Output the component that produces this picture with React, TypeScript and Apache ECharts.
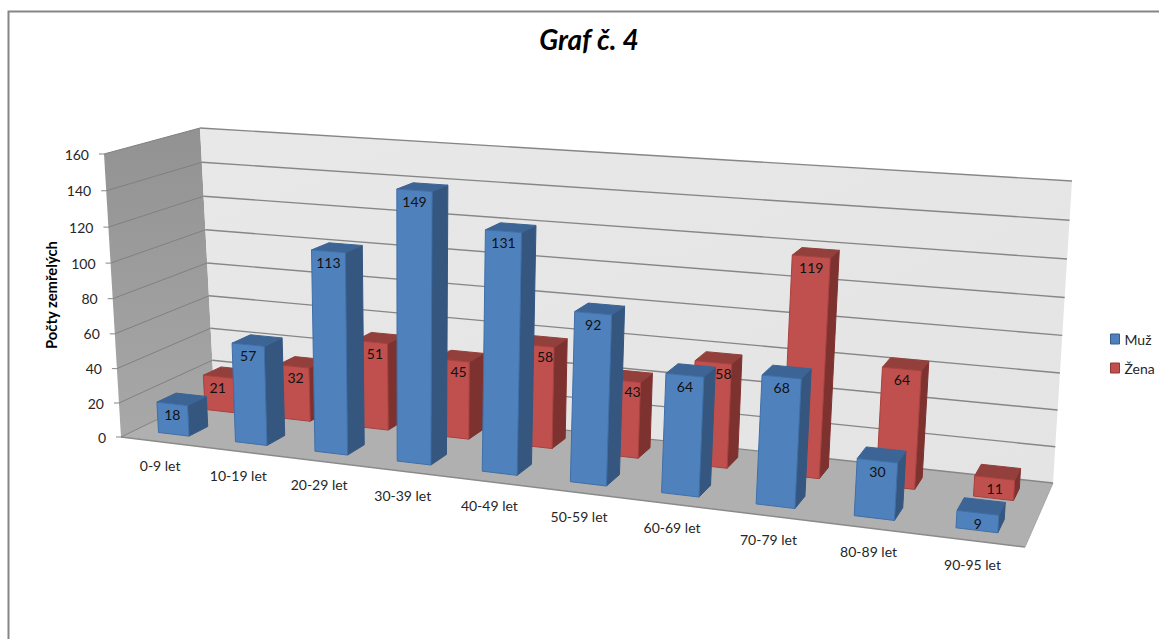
import React, { useEffect, useRef } from "react";
import * as echarts from "echarts";

const ageGroups = ["0-9 let", "10-19 let", "20-29 let", "30-39 let", "40-49 let", "50-59 let", "60-69 let", "70-79 let", "80-89 let", "90-95 let"];
const menDeaths = [18, 57, 113, 149, 131, 92, 64, 68, 30, 9];
const womenDeaths = [21, 32, 51, 45, 58, 43, 58, 119, 64, 11];
const valueTicks = [0, 20, 40, 60, 80, 100, 120, 140, 160];

type Pt = number[];

// Corners of the floor and of the plane through the wall tops, front-left first.
const FLOOR: Pt[] = [[121, 437], [1025, 547], [1053, 483], [214, 392]];
const CEILING: Pt[] = [[104, 154], [1045, 217], [1072, 181], [200, 128]];

// Internal grid used only to turn data into unit coordinates via the ECharts scales.
const GRID = { left: 100, top: 150, width: 900, height: 300 };
const BAR_FILL = 0.4;
const MEN_DEPTH = [0.15, 0.35];
const WOMEN_DEPTH = [0.65, 0.85];
// Small bow along the width and height axes of the box, on top of the plane-to-plane mapping.
const WIDTH_BOW = 0.018;
const HEIGHT_BOW = -0.045;

const unitSquareMap = (q: Pt[]) => {
  const [[x0, y0], [x1, y1], [x2, y2], [x3, y3]] = q;
  const dx1 = x1 - x2, dx2 = x3 - x2, sx = x0 - x1 + x2 - x3;
  const dy1 = y1 - y2, dy2 = y3 - y2, sy = y0 - y1 + y2 - y3;
  const den = dx1 * dy2 - dx2 * dy1;
  const g = (sx * dy2 - dx2 * sy) / den;
  const h = (dx1 * sy - sx * dy1) / den;
  const a = x1 - x0 + g * x1, b = x3 - x0 + h * x3;
  const d = y1 - y0 + g * y1, e = y3 - y0 + h * y3;
  return (u: number, v: number): Pt => {
    const w = g * u + h * v + 1;
    return [(a * u + b * v + x0) / w, (d * u + e * v + y0) / w];
  };
};
const floorMap = unitSquareMap(FLOOR);
const ceilingMap = unitSquareMap(CEILING);
const project = (u: number, v: number, z: number): Pt => {
  const uu = u + WIDTH_BOW * u * (1 - u);
  const zz = z + HEIGHT_BOW * z * (1 - z);
  const f = floorMap(uu, v), c = ceilingMap(uu, v);
  return [f[0] + (c[0] - f[0]) * zz, f[1] + (c[1] - f[1]) * zz];
};

const unitU = (px: number) => (px - GRID.left) / GRID.width;
const unitZ = (py: number) => (GRID.top + GRID.height - py) / GRID.height;

const poly = (points: Pt[], fill: any, stroke?: string) => ({
  type: "polygon",
  shape: { points },
  style: { fill, stroke: stroke || "none", lineWidth: stroke ? 1 : 0 },
  silent: true,
});
const seg = (a: Pt, b: Pt, stroke: string, lineWidth: number) => ({
  type: "line",
  shape: { x1: a[0], y1: a[1], x2: b[0], y2: b[1] },
  style: { stroke, lineWidth },
  silent: true,
});
const label = (x: number, y: number, text: string, align: string, fill = "#262626") => ({
  type: "text",
  x,
  y,
  silent: true,
  style: { text, fill, font: '14px Lato, "Noto Sans", sans-serif', textAlign: align, textVerticalAlign: "middle" },
});

// Value labels of the back row sit in the part of the front face that nearer bars leave visible.
const barRenderer = (depth: number[], palette: { front: any; side: string; top: string; edge: string }, occluders?: number[]) =>
  (_: any, api: any) => {
    const i = api.value(0), val = api.value(1);
    const [cx, cy] = api.coord([i, val]);
    const band = api.size([1, 0])[0];
    const half = (band * BAR_FILL) / 2;
    const u0 = unitU(cx - half), u1 = unitU(cx + half), z = unitZ(cy);
    const [v0, v1] = depth;
    const top = project((u0 + u1) / 2, v0, z);
    const labelY = top[1] + 11;
    let left = project(u0, v0, z)[0];
    let right = project(u1, v0, z)[0];
    if (occluders) {
      const nearZ = unitZ(api.coord([i, occluders[i]])[1]);
      const nearEdge = project(u1, MEN_DEPTH[1], nearZ);
      if (nearEdge[1] < labelY) left = Math.max(left, nearEdge[0]);
      if (i + 1 < occluders.length) {
        const nextZ = unitZ(api.coord([i + 1, occluders[i + 1]])[1]);
        const nextLeft = project(u0 + band / GRID.width, MEN_DEPTH[0], nextZ);
        if (nextLeft[1] < labelY) right = Math.min(right, nextLeft[0]);
      }
    }
    return {
      type: "group",
      children: [
        poly([project(u1, v0, 0), project(u1, v1, 0), project(u1, v1, z), project(u1, v0, z)], palette.side, palette.side),
        poly([project(u0, v0, z), project(u1, v0, z), project(u1, v1, z), project(u0, v1, z)], palette.top, palette.top),
        poly([project(u0, v0, 0), project(u1, v0, 0), project(u1, v0, z), project(u0, v0, z)], palette.front, palette.edge),
        label((left + right) / 2, labelY, String(val), "center", "#111111"),
      ],
    };
  };

const renderRoom = () => {
  const wallFill = new echarts.graphic.LinearGradient(0, 0, 1, 1, [
    { offset: 0, color: "#e8e8e8" },
    { offset: 1, color: "#e4e4e4" },
  ]);
  const sideFill = new echarts.graphic.LinearGradient(0, 0, 0, 1, [
    { offset: 0, color: "#929292" },
    { offset: 1, color: "#a8a8a8" },
  ]);
  return {
    type: "group",
    children: [
      poly([project(0, 0, 0), project(0, 1, 0), project(0, 1, 1), project(0, 0, 1)], sideFill),
      poly([project(0, 1, 0), project(1, 1, 0), project(1, 1, 1), project(0, 1, 1)], wallFill),
      poly([project(0, 0, 0), project(1, 0, 0), project(1, 1, 0), project(0, 1, 0)], "#b0b0b0"),
      seg(project(0, 0, 0), project(1, 0, 0), "#8a8a8a", 1.5),
      seg(project(1, 0, 0), project(1, 1, 0), "#a6a6a6", 1),
    ],
  };
};

const renderTick = (_: any, api: any) => {
  const val = api.value(1);
  const z = unitZ(api.coord([0, val])[1]);
  const front = project(0, 0, z), back = project(0, 1, z), end = project(1, 1, z);
  return {
    type: "group",
    children: [
      seg(front, back, "#808080", 1),
      seg(back, end, "#868686", 1.4),
      seg([front[0] - 5, front[1]], front, "#868686", 1),
      label(front[0] - 15, front[1], String(val), "right"),
    ],
  };
};

const renderAgeLabel = (_: any, api: any) => {
  const i = api.value(0);
  const p = project(unitU(api.coord([i, 0])[0]), 0, 0);
  return label(p[0] + 1, p[1] + 24, ageGroups[i], "center");
};

export default function App() {
  const host = useRef<HTMLDivElement>(null);
  useEffect(() => {
    const chart = echarts.init(host.current, null, { renderer: "svg" });
    chart.setOption({
      animation: false,
      backgroundColor: "#ffffff",
      title: {
        text: "Graf č. 4",
        left: 584,
        top: 20,
        textAlign: "center",
        textStyle: { fontFamily: "Lato, sans-serif", fontSize: 28, fontWeight: "bold", fontStyle: "italic", color: "#000000" },
      },
      grid: GRID,
      xAxis: { type: "category", data: ageGroups, show: false },
      yAxis: { type: "value", min: 0, max: 160, interval: 20, show: false },
      legend: {
        orient: "vertical",
        left: 1105,
        top: 327,
        itemWidth: 9,
        itemHeight: 10,
        itemGap: 15,
        selectedMode: false,
        textStyle: { fontFamily: "Lato, sans-serif", fontSize: 14, color: "#262626" },
        data: [
          { name: "Muž", icon: "rect", itemStyle: { color: "#4f81bd", borderColor: "#385d8a", borderWidth: 1 } },
          { name: "Žena", icon: "rect", itemStyle: { color: "#c0504d", borderColor: "#8c3836", borderWidth: 1 } },
        ],
      },
      graphic: [
        {
          type: "polyline",
          shape: { points: [[8.5, 639], [8.5, 11.5], [1159, 11.5]] },
          style: { stroke: "#868686", lineWidth: 2, fill: "none" },
          silent: true,
        },
        {
          type: "text",
          x: 51,
          y: 295,
          rotation: Math.PI / 2,
          silent: true,
          style: { text: "Počty zemřelých", fill: "#000000", font: "bold 14.8px Lato, sans-serif", textAlign: "center", textVerticalAlign: "middle" },
        },
      ],
      series: [
        { type: "custom", name: "room", z: 1, silent: true, renderItem: renderRoom, data: [[0, 0]] },
        { type: "custom", name: "ticks", z: 1, silent: true, renderItem: renderTick, data: valueTicks.map((t) => [0, t]) },
        { type: "custom", name: "ages", z: 1, silent: true, renderItem: renderAgeLabel, data: ageGroups.map((_, i) => [i, 0]) },
        {
          type: "custom",
          name: "Žena",
          z: 2,
          silent: true,
          itemStyle: { color: "#c0504d" },
          renderItem: barRenderer(WOMEN_DEPTH, { front: "#c0504d", side: "#7e3230", top: "#933f3c", edge: "#a8413f" }, menDeaths),
          data: womenDeaths.map((v, i) => [i, v]),
        },
        {
          type: "custom",
          name: "Muž",
          z: 3,
          silent: true,
          itemStyle: { color: "#4f81bd" },
          renderItem: barRenderer(MEN_DEPTH, { front: "#4f81bd", side: "#34567f", top: "#3c6494", edge: "#3f6fa8" }),
          data: menDeaths.map((v, i) => [i, v]),
        },
      ],
    });
    return () => chart.dispose();
  }, []);
  return <div ref={host} style={{ position: "fixed", left: 0, top: 0, width: 1159, height: 639 }} />;
}
